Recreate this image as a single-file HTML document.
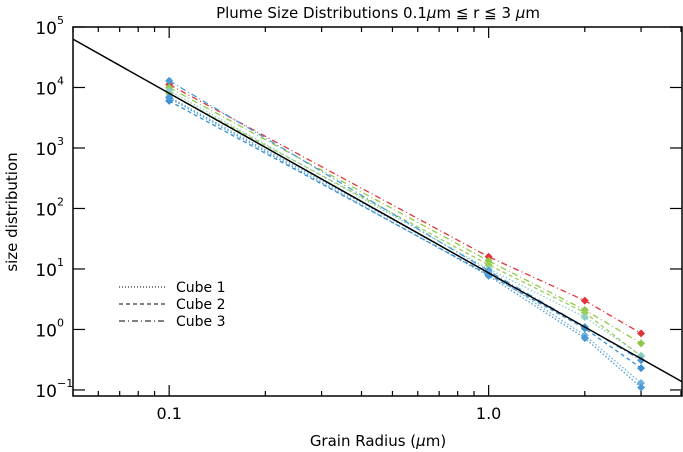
<!DOCTYPE html>
<html><head><meta charset="utf-8"><style>
body{margin:0;background:#fff}
svg{display:block;font-family:"DejaVu Sans","Liberation Sans",sans-serif}
</style></head><body>
<svg id="chart" width="683" height="452" xmlns="http://www.w3.org/2000/svg">
<text x="378" y="18" font-size="15" text-anchor="middle">Plume Size Distributions 0.1<tspan font-style="italic">μ</tspan>m ≦ r ≦ 3 <tspan font-style="italic">μ</tspan>m</text>
<text x="378" y="446" font-size="15" text-anchor="middle">Grain Radius (<tspan font-style="italic">μ</tspan>m)</text>
<text transform="translate(17,212) rotate(-90)" font-size="15" text-anchor="middle">size distribution</text>
<g id="plot"></g>
<g id="legend"></g>
</svg>
<script>
const radii = [0.1, 1, 2, 3];
const seriesRedDashDot = [11200, 15.9, 3.0, 0.86];
const seriesGreenDashDot = [10000, 13.6, 2.1, 0.59];
const seriesGreenDash = [7900, 11.7, 1.9, 0.36];
const seriesTealDot = [8900, 10, 1.6, 0.37];
const seriesBlueDashDot = [12900, 9.3, 1.1, 0.31];
const seriesBlueDash = [6000, 8, 1.04, 0.23];
const seriesLightBlueDot = [7000, 8.7, 0.8, 0.13];
const seriesBlueDot = [6700, 7.7, 0.72, 0.11];
const fitCoefficient = 8.6;
const fitSlope = -2.97;
const xTickValues = [0.1, 1.0];
const xTickLabels = ["0.1", "1.0"];
const yTickExponents = [-1, 0, 1, 2, 3, 4, 5];

const NS = "http://www.w3.org/2000/svg";
const L = 73, R = 682, T = 27, B = 396;
const xMin = Math.log10(0.05), xMax = Math.log10(4.03);
const yMin = -1.1, yMax = 5;
const xs = v => L + (Math.log10(v) - xMin) / (xMax - xMin) * (R - L);
const ys = v => B - (Math.log10(v) - yMin) / (yMax - yMin) * (B - T);
const plot = document.getElementById('plot');
function el(tag, attrs, parent) {
  const e = document.createElementNS(NS, tag);
  for (const k in attrs) e.setAttribute(k, attrs[k]);
  (parent || plot).appendChild(e);
  return e;
}
const defs = el('defs', {});
const cp = el('clipPath', {id: 'clip'}, defs);
el('rect', {x: L, y: T, width: R - L, height: B - T}, cp);

const seriesList = [
  {v: seriesRedDashDot, c: '#e0343a', d: '6 3 1 3', n: 'series-red-cube3'},
  {v: seriesGreenDashDot, c: '#92c84a', d: '6 3 1 3', n: 'series-green-cube3'},
  {v: seriesGreenDash, c: '#9ccc5a', d: '4 3', n: 'series-green-cube2'},
  {v: seriesTealDot, c: '#8ccfc0', d: '1.5 2', n: 'series-teal-cube1'},
  {v: seriesBlueDashDot, c: '#4a9ad6', d: '6 3 1 3', n: 'series-blue-cube3'},
  {v: seriesBlueDash, c: '#3a8fd0', d: '4 3', n: 'series-blue-cube2'},
  {v: seriesLightBlueDot, c: '#6ab0e0', d: '1.5 2', n: 'series-lightblue-cube1'},
  {v: seriesBlueDot, c: '#4a9ad6', d: '1.5 2', n: 'series-blue-cube1'}
];
seriesList.forEach(s => {
  const g = el('g', {});
  
  
  const pts = s.v.map((v, i) => xs(radii[i]).toFixed(1) + ',' + ys(v).toFixed(1)).join(' ');
  el('polyline', {points: pts, fill: 'none', stroke: s.c, 'stroke-width': 1.3, 'stroke-dasharray': s.d}, g);
  s.v.forEach((v, i) => {
    const x = xs(radii[i]), y = ys(v);
    const m = el('path', {d: `M${x} ${y-4}L${x+4} ${y}L${x} ${y+4}L${x-4} ${y}Z`, fill: s.c}, g);
    
    
  });
});
const fit = el('line', {x1: xs(0.05), y1: ys(fitCoefficient * Math.pow(0.05, fitSlope)), x2: xs(4.03), y2: ys(fitCoefficient * Math.pow(4.03, fitSlope)), stroke: '#000', 'stroke-width': 1.5, 'clip-path': 'url(#clip)'});



const frame = el('rect', {x: L, y: T, width: R - L, height: B - T, fill: 'none', stroke: '#000', 'stroke-width': 1.5});



const xAxis = el('g', {});


for (let dec = -2; dec <= 0; dec++) {
  for (let m = 1; m <= 9; m++) {
    const v = m * Math.pow(10, dec);
    if (v < 0.05 || v > 4.03) continue;
    const x = xs(v), len = m === 1 ? 11 : 5;
    el('line', {x1: x, y1: B, x2: x, y2: B - len, stroke: '#000', 'stroke-width': 1.2}, xAxis);
    el('line', {x1: x, y1: T, x2: x, y2: T + len, stroke: '#000', 'stroke-width': 1.2}, xAxis);
  }
}
xTickValues.forEach((v, i) => {
  const t = el('text', {x: xs(v), y: 419, 'font-size': 16, 'text-anchor': 'middle'}, xAxis);
  t.textContent = xTickLabels[i];
  
  
});
const yAxis = el('g', {});


yTickExponents.forEach(e => {
  const y = ys(Math.pow(10, e));
  el('line', {x1: L, y1: y, x2: L + 12, y2: y, stroke: '#000', 'stroke-width': 1.2}, yAxis);
  el('line', {x1: R, y1: y, x2: R - 12, y2: y, stroke: '#000', 'stroke-width': 1.2}, yAxis);
  const t = el('text', {x: 57, y: y + 7, 'font-size': 17, 'text-anchor': 'end'}, yAxis);
  
  
  t.textContent = '10';
  const sup = el('text', {x: 57, y: y - 3, 'font-size': 11, 'text-anchor': 'start'}, yAxis);
  sup.textContent = e < 0 ? '−' + (-e) : String(e);
});
const legend = document.getElementById('legend');
const legendLabels = ['Cube 1', 'Cube 2', 'Cube 3'];
const legendDash = ['1 2', '4 3', '6 3 1 3'];
legendLabels.forEach((lab, i) => {
  const y = 287 + i * 17;
  const g = el('g', {}, legend);
  
  
  el('line', {x1: 119, y1: y, x2: 165, y2: y, stroke: '#000', 'stroke-width': 1, 'stroke-dasharray': legendDash[i]}, g);
  const t = el('text', {x: 176, y: y + 5, 'font-size': 14}, g);
  t.textContent = lab;
});
</script>
</body></html>
